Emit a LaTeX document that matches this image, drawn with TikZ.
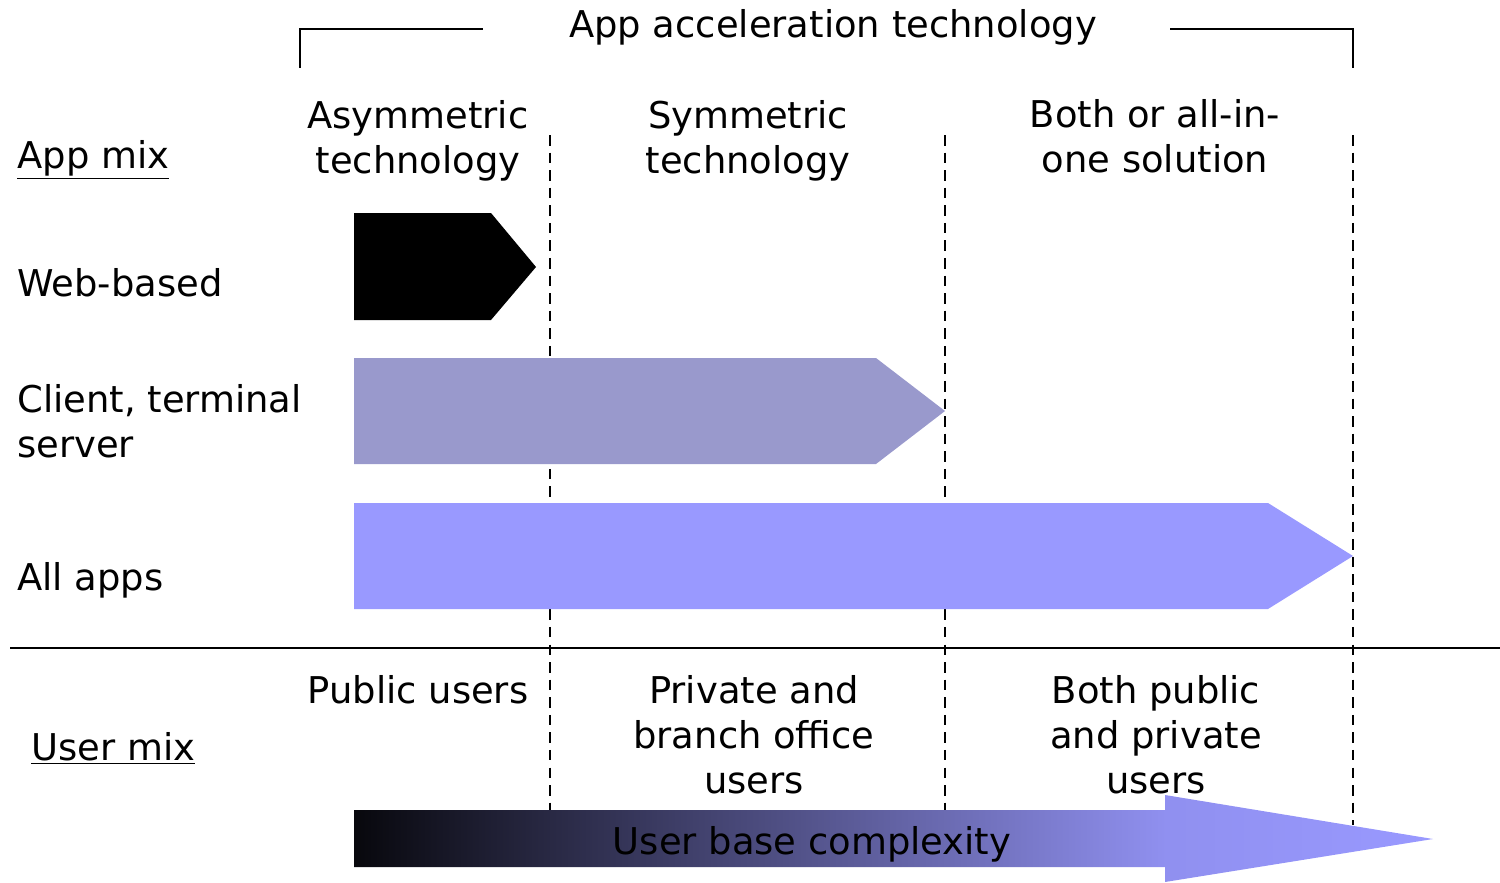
\documentclass[tikz,border=0pt]{standalone}
\usepackage{fontspec}
\setmainfont{DejaVu Sans}
\definecolor{termgray}{RGB}{153,153,204}
\definecolor{appblue}{RGB}{153,153,255}
\pgfdeclarehorizontalshading{userramp}{100bp}{color(0bp)=(black); color(25bp)=(black!95!appblue);
	color(62.6bp)=(appblue!94!black); color(75bp)=(appblue); color(100bp)=(appblue)}
\begin{document}
\begin{tikzpicture}[x=0.02cm,y=-0.02cm,
		lbl/.style={inner sep=0pt,font=\fontsize{21}{25.6}\selectfont},
		col/.style={lbl,align=center},
		sep/.style={line width=1.3pt,dash pattern=on 6pt off 4pt},
		rule/.style={line width=1.4pt}]
	\useasboundingbox (0,0) rectangle (1500,882);
	% bracket and title
	\node[lbl,anchor=base] (title) at (833,38) {App acceleration technology};
	\draw[rule] (300,68) -- (300,29) -- (483,29);
	\draw[rule] (1170,29) -- (1353,29) -- (1353,68);
	% column separators
	\draw[sep] (550,135) -- (550,812);
	\draw[sep] (945,135) -- (945,812);
	\draw[sep] (1353,135) -- (1353,825);
	\draw[rule] (10,648) -- (1500,648);
	% row labels
	\node[lbl,anchor=base west] (appmix) at (17,168) {\underline{App mix}};
	\node[lbl,anchor=base west] (web) at (17,296) {Web-based};
	\node[lbl,anchor=west,align=left] (client) at (17,421) {Client, terminal\\server};
	\node[lbl,anchor=base west] (allapps) at (17,590) {All apps};
	\node[lbl,anchor=base west] (usermix) at (31,760) {\underline{User mix}};
	% column headers
	\node[col] (asym) at (418,141) {Asymmetric\\technology};
	\node[col] (sym) at (748,141) {Symmetric\\technology};
	\node[col] (both) at (1155,136) {Both or all-in-\\one solution};
	% user columns
	\node[lbl,anchor=base] (public) at (418,703) {Public users};
	\node[col] (private) at (754,735) {Private and\\branch office\\users};
	\node[col] (mixed) at (1156,735) {Both public\\and private\\users};
	% arrows
	\fill[black] (354,213) -- (491,213) -- (536,267) -- (491,320) -- (354,320) -- cycle;
	\fill[termgray] (354,358) -- (876,358) -- (945,411) -- (876,464) -- (354,464) -- cycle;
	\fill[appblue] (354,503) -- (1268,503) -- (1353,556) -- (1268,609) -- (354,609) -- cycle;
	\shade[shading=userramp] (354,810) -- (1165,810) -- (1165,795)
		-- (1433,839) -- (1165,882) -- (1165,867) -- (354,867) -- cycle;
	\node[lbl] (complexity) at (812,844) {User base complexity};
\end{tikzpicture}
\end{document}
